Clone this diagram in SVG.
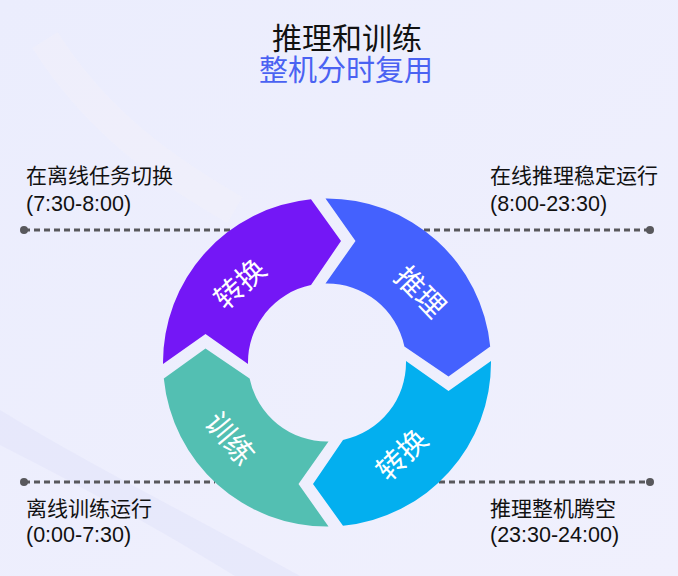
<svg xmlns="http://www.w3.org/2000/svg" width="678" height="576" viewBox="0 0 678 576">
<style>
.t{font-family:"Noto Sans CJK SC","Noto Sans",sans-serif;}
.lbl{font-family:"Noto Sans CJK SC","Noto Sans",sans-serif;font-size:21px;fill:#111;}
.num{font-family:"Liberation Sans","Noto Sans CJK SC",sans-serif;font-size:21.5px;fill:#111;}
.seglbl{font-family:"Noto Sans CJK SC",sans-serif;font-size:29px;fill:#fff;text-anchor:middle;dominant-baseline:central;}
.dash{stroke:#58585c;stroke-width:3;stroke-dasharray:6 4;fill:none;}
.dot{fill:#58585c;}
</style>
<defs>
<linearGradient id="bg" x1="0" y1="0" x2="1" y2="1">
<stop offset="0" stop-color="#EBEDFD"/>
<stop offset="1" stop-color="#F0F0FD"/>
</linearGradient>
<path id="seg" d="M -164,1.5 A 164 164 0 0 1 -16,-163.2 L 14,-121.5 L -16,-77.4 A 79 79 0 0 0 -79,1.5 L -121.5,-28.5 Z"/>
</defs>
<rect width="678" height="576" fill="url(#bg)"/>
<path d="M 0,410 C 90,465 200,520 300,576 L 235,576 C 160,530 80,485 0,445 Z" fill="#E3E5FA" opacity="0.6"/>
<path d="M 45,40 C 95,120 165,170 235,210" stroke="#F4F3FA" stroke-width="30" fill="none" opacity="0.3"/>

<g id="title">
<text class="t" x="347" y="49" font-size="30" fill="#111" text-anchor="middle">推理和训练</text>
<text class="t" x="346" y="81" font-size="29" fill="#4A62F2" text-anchor="middle">整机分时复用</text>
</g>

<g id="connectors">
<line class="dash" x1="24" y1="230" x2="230" y2="230"/>
<circle class="dot" cx="24" cy="230" r="4"/>
<line class="dash" x1="424" y1="230" x2="650" y2="230"/>
<circle class="dot" cx="650" cy="230" r="4"/>
<line class="dash" x1="24" y1="482" x2="215" y2="482"/>
<circle class="dot" cx="24" cy="482" r="4"/>
<line class="dash" x1="439" y1="482" x2="650" y2="482"/>
<circle class="dot" cx="650" cy="482" r="4"/>
</g>

<g id="seg-switch1">
<use href="#seg" transform="translate(327,362.5)" fill="#7417F6"/>
<text class="seglbl" transform="translate(238,282) rotate(-42)">转换</text>
</g>
<g id="seg-infer">
<use href="#seg" transform="translate(327,362.5) rotate(90)" fill="#4461FE"/>
<text class="seglbl" transform="translate(422,290) rotate(46)">推理</text>
</g>
<g id="seg-switch2">
<use href="#seg" transform="translate(327,362.5) rotate(180)" fill="#03AFEF"/>
<text class="seglbl" transform="translate(400,453) rotate(-44)">转换</text>
</g>
<g id="seg-train">
<use href="#seg" transform="translate(327,362.5) rotate(270)" fill="#53BFB2"/>
<text class="seglbl" transform="translate(232,437) rotate(50)">训练</text>
</g>

<g id="label-tl">
<text class="lbl" x="26" y="183">在离线任务切换</text>
<text class="num" x="26" y="211">(7:30-8:00)</text>
</g>
<g id="label-tr">
<text class="lbl" x="490" y="183">在线推理稳定运行</text>
<text class="num" x="490" y="211">(8:00-23:30)</text>
</g>
<g id="label-bl">
<text class="lbl" x="26" y="516">离线训练运行</text>
<text class="num" x="26" y="542">(0:00-7:30)</text>
</g>
<g id="label-br">
<text class="lbl" x="490" y="516">推理整机腾空</text>
<text class="num" x="490" y="542">(23:30-24:00)</text>
</g>
</svg>
